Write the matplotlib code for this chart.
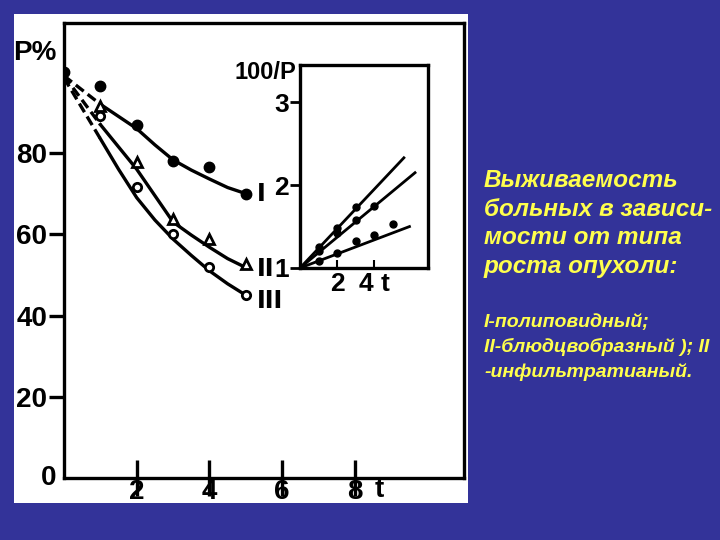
import numpy as np
import matplotlib
matplotlib.use("Agg")
from matplotlib import pyplot as plt
from matplotlib.patches import Rectangle

# survival points, P%
t_pts = [0, 1, 2, 3, 4, 5]
p1_pts = [100, 96.5, 87, 78, 76.5, 70]
t_pts2 = [1, 2, 3, 4, 5]
p2_pts = [91.6, 77.8, 63.7, 58.8, 52.6]
p3_pts = [89, 71.6, 60, 52, 45]

# hand drawn curves
t_dash = [0, 0.5, 1.0]
c1_dash = [99, 95.5, 92]
c2_dash = [99, 93, 87]
c3_dash = [98.5, 91, 83.5]
t_line = [1.0, 1.5, 2, 2.5, 3, 3.5, 4, 4.5, 5]
c1_line = [92, 89, 86, 82, 78.3, 75.8, 73.6, 71.5, 70]
c2_line = [87, 81.5, 76, 69.5, 63, 59.8, 56.8, 54, 51.8]
c3_line = [83.5, 76, 69, 63.5, 58.8, 54.8, 51, 47.8, 45]

# inset, 100/P
ti1 = [1, 2, 3]
vi1 = [1.25, 1.48, 1.74]
ti2 = [1, 2, 3, 4]
vi2 = [1.2, 1.42, 1.58, 1.75]
ti3 = [1, 2, 3, 4, 5]
vi3 = [1.08, 1.18, 1.33, 1.40, 1.53]
li_t = [[0, 5.6], [0, 6.2], [0, 5.9]]
li_v = [[1, 2.33], [1, 2.15], [1, 1.5]]

bg = "#333399"
yel = "#FFFF4D"
ink = "black"
fam = "Liberation Sans"

fig = plt.figure(figsize=(7.2, 5.4), dpi=100, facecolor=bg)
W, H = 720.0, 540.0
fig.patches.append(Rectangle((14 / W, 1 - 503 / H), 454 / W, 489 / H,
                             transform=fig.transFigure, facecolor="white",
                             edgecolor="none", zorder=-10))

ax = fig.add_axes([64 / W, 1 - 478 / H, 400 / W, 455 / H])
ax.set_facecolor("none")
ax.set_xlim(0, 11)
ax.set_ylim(0, 112)
for s in ax.spines.values():
    s.set_linewidth(2.4)
    s.set_color(ink)
ax.set_xticks([2, 4, 6, 8])
ax.set_yticks([20, 40, 60, 80])
ax.tick_params(axis="x", direction="inout", length=26, width=2.4, pad=-12)
ax.tick_params(axis="y", direction="out", length=11, width=2.4, pad=1)
for lab in ax.get_xticklabels() + ax.get_yticklabels():
    lab.set_fontfamily(fam)
    lab.set_fontweight("bold")
    lab.set_fontsize(20)
ax.text(-0.2, 0, "0", ha="right", va="center", fontsize=20,
        fontweight="bold", family=fam)
ax.text(8.55, -3.0, "t", ha="left", va="center", fontsize=20,
        fontweight="bold", family=fam)
ax.text(-1.4, 104.5, "P%", ha="left", va="center", fontsize=20,
        fontweight="bold", family=fam)

for cd, cl in [(c1_dash, c1_line), (c2_dash, c2_line), (c3_dash, c3_line)]:
    ax.plot(t_dash, cd, color=ink, lw=2.4, ls=(0, (3, 1.5)))
    ax.plot(t_line, cl, color=ink, lw=2.4)

ax.plot(t_pts, p1_pts, "o", color=ink, ms=7.5)
ax.plot(t_pts2, p2_pts, "^", mfc="white", mec=ink, mew=2, ms=7)
ax.plot(t_pts2, p3_pts, "o", mfc="white", mec=ink, mew=2, ms=6)
ax.text(5.3, 70, "I", ha="left", va="center", fontsize=17, fontweight="bold")
ax.text(5.3, 51.5, "II", ha="left", va="center", fontsize=17, fontweight="bold")
ax.text(5.3, 43.5, "III", ha="left", va="center", fontsize=17, fontweight="bold")

ins = fig.add_axes([300 / W, 1 - 268 / H, 128 / W, 203 / H])
ins.set_facecolor("white")
ins.set_xlim(0, 6.9)
ins.set_ylim(1, 3.45)
for s in ins.spines.values():
    s.set_linewidth(2.4)
    s.set_color(ink)
ins.set_xticks([2, 4])
ins.set_yticks([1, 2, 3])
ins.tick_params(axis="x", direction="in", length=6, width=1.5, pad=3)
ins.tick_params(axis="y", direction="out", length=7, width=2, pad=1)
for lab in ins.get_xticklabels() + ins.get_yticklabels():
    lab.set_fontfamily(fam)
    lab.set_fontweight("bold")
    lab.set_fontsize(19)
ins.set_xticklabels(["2", "4 t"])
ins.text(-0.2, 3.5, "100/P", ha="right", va="top", fontsize=17,
         fontweight="bold", family=fam, transform=ins.transData)
for tt, vv in zip(li_t, li_v):
    ins.plot(tt, vv, color=ink, lw=2)
for tt, vv in [(ti1, vi1), (ti2, vi2), (ti3, vi3)]:
    ins.plot(tt, vv, "o", color=ink, ms=5)

txt = dict(color=yel, fontsize=17.5, fontweight="bold", style="italic",
           family=fam, va="baseline", ha="left")
lines = ["Выживаемость", "больных в зависи-", "мости от типа", "роста опухоли:"]
for i, s in enumerate(lines):
    fig.text(484 / W, 1 - (187 + 28.5 * i) / H, s, **txt)
small = dict(txt, fontsize=14)
lines2 = ["I-полиповидный;", "II-блюдцвобразный ); II", "-инфильтратианый."]
for i, s in enumerate(lines2):
    fig.text(484 / W, 1 - (327 + 25 * i) / H, s, **small)

fig.savefig("out.png", dpi=100, facecolor=bg)
